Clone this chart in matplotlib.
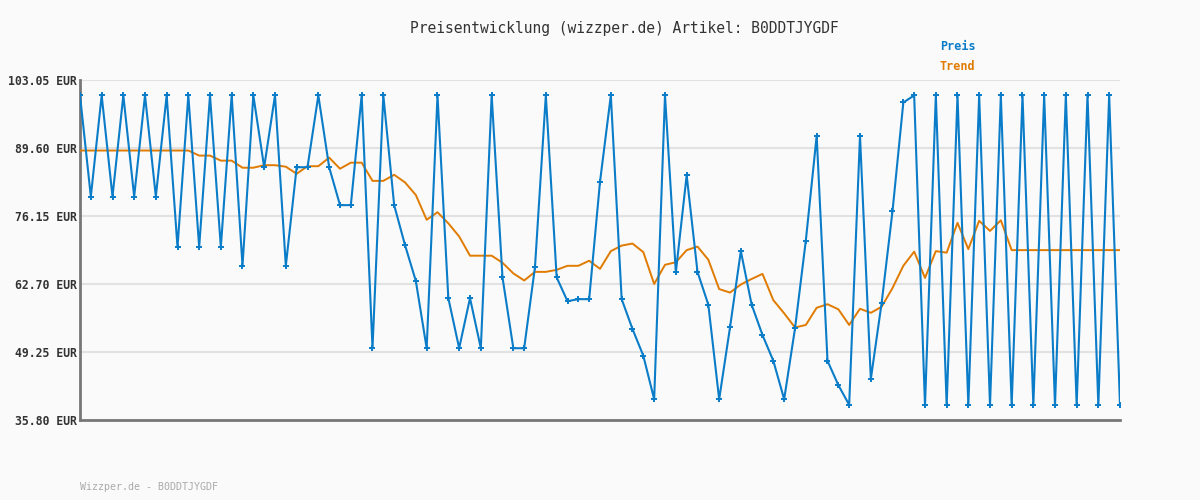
import matplotlib

matplotlib.use("Agg")
import matplotlib.pyplot as plt

# Preisdaten
preis = [
    100, 80, 100, 80, 100, 80, 100, 80, 100, 70,
    100, 70, 100, 70, 100, 66.3, 100, 85.8, 100, 66.3,
    85.8, 85.8, 100, 85.8, 78.3, 78.3, 100, 50, 100, 78.3,
    70.4, 63.3, 50, 100, 59.9, 50, 59.9, 50, 100, 64.0,
    50, 50, 66.1, 100, 64.0, 59.3, 59.7, 59.7, 82.9, 100,
    59.7, 53.8, 48.5, 39.9, 100, 65.0, 84.2, 65.1, 58.6, 39.9,
    54.1, 69.2, 58.6, 52.6, 47.5, 39.9, 53.9, 71.3, 92.0, 47.5,
    42.7, 38.8, 92.0, 43.9, 59.0, 77.1, 98.6, 100, 38.7, 100,
    38.7, 100, 38.7, 100, 38.7, 100, 38.7, 100, 38.7, 100,
    38.7, 100, 38.7, 100, 38.7, 100, 38.7,
]
trend = [
    89.1, 89.1, 89.1, 89.1, 89.1, 89.1, 89.1, 89.1, 89.1, 89.1,
    89.1, 88.1, 88.1, 87.1, 87.1, 85.7, 85.7, 86.2, 86.2, 85.9,
    84.5, 86.0, 86.0, 87.7, 85.5, 86.7, 86.7, 83.1, 83.1, 84.3,
    82.8, 80.3, 75.4, 76.9, 74.7, 72.1, 68.3, 68.3, 68.3, 66.9,
    64.8, 63.4, 65.1, 65.1, 65.5, 66.3, 66.3, 67.3, 65.7, 69.2,
    70.3, 70.7, 69.0, 62.7, 66.5, 67.0, 69.4, 70.1, 67.5, 61.7,
    61.0, 62.6, 63.7, 64.7, 59.5, 56.9, 54.1, 54.6, 58.0, 58.7,
    57.7, 54.6, 57.8, 57.0, 58.2, 61.9, 66.3, 69.1, 63.9, 69.2,
    68.9, 74.8, 69.6, 75.2, 73.2, 75.3, 69.4, 69.4, 69.4, 69.4,
    69.4, 69.4, 69.4, 69.4, 69.4, 69.4, 69.4,
]
y_ticks = [35.80, 49.25, 62.70, 76.15, 89.60, 103.05]
artikel = "B0DDTJYGDF"

BLUE = "#0a7cc8"
ORANGE = "#e07b00"
BG = "#fafafa"
MONO = ["DejaVu Sans Mono"]

fig = plt.figure(figsize=(12, 5), dpi=100, facecolor=BG)
ax = fig.add_axes([80 / 1200, 80 / 500, 1040 / 1200, 340 / 500])
ax.set_facecolor(BG)

x = list(range(len(preis)))
ax.plot(x, trend, color=ORANGE, lw=1.4, zorder=3)
ax.plot(x, preis, color=BLUE, lw=1.5, marker="+", ms=4, mew=1.4, zorder=4)

ax.set_xlim(0, len(preis) - 1)
ax.set_ylim(y_ticks[0], y_ticks[-1])
ax.set_yticks(y_ticks)
ax.set_yticklabels([f"{v:.2f} EUR" for v in y_ticks], family=MONO,
                   fontsize=8.3, fontweight="bold", color="#333333")
ax.set_xticks([])
ax.tick_params(axis="y", length=0, pad=2)
ax.grid(axis="y", color="#e2e2e2", lw=1.5, zorder=0)

for s in ["top", "right"]:
    ax.spines[s].set_visible(False)
for s in ["left", "bottom"]:
    ax.spines[s].set_color("#777777")
    ax.spines[s].set_linewidth(2)

fig.text(0.52, 1 - 28 / 500, f"Preisentwicklung (wizzper.de) Artikel: {artikel}",
         ha="center", va="center", family=MONO, fontsize=10.5, color="#333333")
fig.text(940 / 1200, 1 - 47 / 500, "Preis", ha="left", va="center",
         family=MONO, fontsize=8.5, fontweight="bold", color=BLUE)
fig.text(940 / 1200, 1 - 67 / 500, "Trend", ha="left", va="center",
         family=MONO, fontsize=8.5, fontweight="bold", color=ORANGE)
fig.text(80 / 1200, 1 - 487 / 500, f"Wizzper.de - {artikel}", ha="left",
         va="center", family=MONO, fontsize=7.2, color="#aaaaaa")

fig.savefig("out.png", dpi=100, facecolor=BG)
